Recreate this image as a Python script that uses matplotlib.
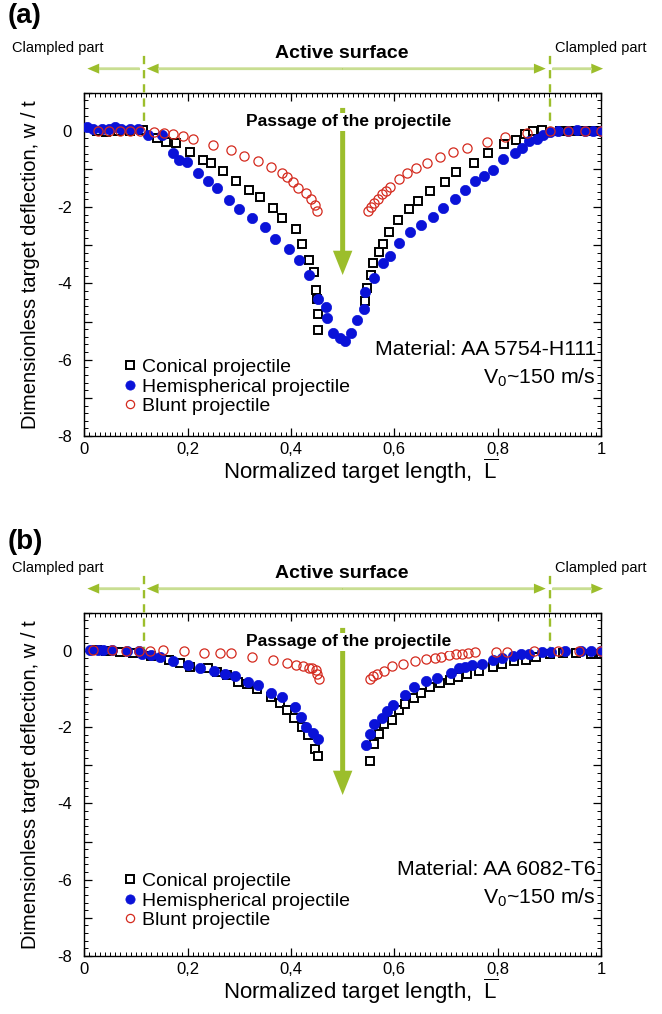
"""
Dimensionless target deflection along the normalized target length
(a) AA 5754-H111, (b) AA 6082-T6, V0 ~ 150 m/s
"""
import matplotlib
matplotlib.use('Agg')
import matplotlib.pyplot as plt
from matplotlib.ticker import MultipleLocator, FuncFormatter

plt.rcParams['font.family'] = ['Liberation Sans', 'DejaVu Sans']
plt.rcParams['mathtext.fontset'] = 'custom'
plt.rcParams['mathtext.rm'] = 'Liberation Sans'

# =====================================
# Measurement data (read from the figure)
# =====================================
# (a) AA 5754-H111
a_con_x = [0.024, 0.043, 0.066, 0.088, 0.114, 0.141, 0.158, 0.177, 0.205, 0.230,
           0.245, 0.268, 0.293, 0.319, 0.340, 0.365, 0.382, 0.409, 0.422, 0.435,
           0.444, 0.449, 0.451, 0.452, 0.452,
           0.543, 0.548, 0.554, 0.559, 0.570, 0.578, 0.590, 0.608, 0.628, 0.645,
           0.669, 0.698, 0.719, 0.754, 0.782, 0.812, 0.835, 0.853, 0.869, 0.885,
           0.921, 0.937, 0.953, 0.969, 0.985, 1.0]
a_con_y = [0.0, -0.03, 0.0, 0.0, 0.02, -0.20, -0.29, -0.33, -0.56, -0.77,
           -0.85, -1.04, -1.31, -1.55, -1.74, -2.01, -2.29, -2.57, -2.96, -3.38,
           -3.71, -4.16, -4.42, -4.81, -5.23,
           -4.46, -4.12, -3.79, -3.46, -3.18, -2.96, -2.65, -2.33, -2.05, -1.83,
           -1.59, -1.33, -1.09, -0.85, -0.57, -0.35, -0.24, -0.09, 0.0, 0.01,
           0.0, 0.0, 0.0, 0.0, 0.0, 0.0]

a_hem_x = [0.005, 0.017, 0.034, 0.047, 0.059, 0.072, 0.088, 0.104, 0.124, 0.150,
           0.172, 0.183, 0.198, 0.221, 0.240, 0.256, 0.281, 0.300, 0.324, 0.350,
           0.370, 0.396, 0.416, 0.434, 0.453, 0.467, 0.469, 0.481, 0.495, 0.504,
           0.516, 0.528, 0.541, 0.544, 0.560, 0.578, 0.592, 0.609, 0.630, 0.652,
           0.674, 0.695, 0.717, 0.737, 0.757, 0.774, 0.790, 0.811, 0.834, 0.847,
           0.861, 0.877, 0.887, 0.901, 0.917, 0.937, 0.953, 0.969, 0.985, 1.0]
a_hem_y = [0.10, 0.06, 0.06, 0.04, 0.10, 0.04, 0.04, 0.04, -0.11, -0.11,
           -0.57, -0.77, -0.83, -1.11, -1.31, -1.50, -1.81, -2.05, -2.29, -2.53,
           -2.84, -3.10, -3.39, -3.77, -4.42, -4.61, -4.90, -5.30, -5.44, -5.50,
           -5.30, -4.96, -4.68, -4.23, -3.85, -3.46, -3.27, -2.94, -2.65, -2.46,
           -2.27, -2.03, -1.79, -1.55, -1.31, -1.18, -1.03, -0.75, -0.57, -0.46,
           -0.26, -0.22, -0.11, -0.04, 0.0, 0.0, 0.01, 0.0, 0.0, 0.0]

a_blu_x = [0.027, 0.048, 0.069, 0.088, 0.108, 0.134, 0.154, 0.171, 0.192, 0.211,
           0.250, 0.283, 0.310, 0.337, 0.361, 0.382, 0.393, 0.403, 0.414, 0.430,
           0.438, 0.447, 0.451,
           0.550, 0.554, 0.561, 0.568, 0.576, 0.583, 0.592, 0.609, 0.624, 0.642,
           0.663, 0.688, 0.713, 0.740, 0.779, 0.814, 0.856, 0.901, 0.937, 0.969, 1.0]
a_blu_y = [0.0, 0.0, 0.0, 0.0, 0.0, -0.03, -0.07, -0.09, -0.14, -0.22,
           -0.36, -0.50, -0.65, -0.78, -0.94, -1.11, -1.20, -1.33, -1.49, -1.63,
           -1.78, -1.94, -2.09,
           -2.09, -2.00, -1.90, -1.78, -1.66, -1.57, -1.48, -1.27, -1.11, -0.98,
           -0.85, -0.68, -0.56, -0.44, -0.29, -0.16, -0.07, 0.0, 0.0, 0.0, 0.0]

# (b) AA 6082-T6
b_con_x = [0.024, 0.043, 0.069, 0.095, 0.130, 0.163, 0.185, 0.205, 0.240, 0.256,
           0.276, 0.298, 0.314, 0.334, 0.361, 0.379, 0.392, 0.406, 0.421, 0.432,
           0.446, 0.452,
           0.553, 0.561, 0.570, 0.580, 0.595, 0.610, 0.621, 0.638, 0.652, 0.670,
           0.688, 0.708, 0.724, 0.740, 0.763, 0.791, 0.809, 0.832, 0.855, 0.874,
           0.902, 0.927, 0.951, 0.980, 1.0]
b_con_y = [0.02, 0.0, -0.04, -0.05, -0.13, -0.24, -0.33, -0.42, -0.46, -0.55,
           -0.64, -0.81, -0.88, -1.01, -1.22, -1.38, -1.55, -1.77, -1.99, -2.21,
           -2.58, -2.77,
           -2.89, -2.43, -2.17, -1.93, -1.81, -1.55, -1.40, -1.24, -1.10, -0.96,
           -0.84, -0.77, -0.69, -0.60, -0.53, -0.42, -0.35, -0.28, -0.24, -0.16,
           -0.09, -0.07, -0.07, -0.09, -0.09]

b_hem_x = [0.011, 0.027, 0.037, 0.053, 0.082, 0.105, 0.111, 0.130, 0.147, 0.172,
           0.201, 0.223, 0.252, 0.272, 0.292, 0.317, 0.337, 0.361, 0.382, 0.408,
           0.419, 0.430, 0.443, 0.453,
           0.546, 0.553, 0.561, 0.577, 0.585, 0.598, 0.621, 0.639, 0.661, 0.683,
           0.710, 0.726, 0.737, 0.751, 0.769, 0.791, 0.809, 0.829, 0.845, 0.861,
           0.885, 0.904, 0.931, 0.961, 0.981, 1.0]
b_hem_y = [0.02, 0.02, 0.02, 0.02, 0.0, 0.0, -0.09, -0.11, -0.16, -0.26,
           -0.37, -0.45, -0.52, -0.61, -0.65, -0.81, -0.90, -1.10, -1.22, -1.48,
           -1.73, -1.99, -2.15, -2.32,
           -2.46, -2.19, -1.93, -1.75, -1.59, -1.43, -1.17, -0.96, -0.80, -0.71,
           -0.57, -0.44, -0.42, -0.38, -0.34, -0.24, -0.18, -0.13, -0.09, -0.09,
           -0.04, -0.02, 0.0, 0.0, 0.0, 0.0]

b_blu_x = [0.016, 0.054, 0.081, 0.105, 0.128, 0.152, 0.193, 0.232, 0.263, 0.283,
           0.325, 0.365, 0.393, 0.410, 0.424, 0.434, 0.441, 0.448, 0.451, 0.454,
           0.553, 0.559, 0.567, 0.580, 0.596, 0.616, 0.640, 0.661, 0.678, 0.691,
           0.706, 0.719, 0.731, 0.742, 0.757, 0.797, 0.819, 0.870, 0.916, 0.958, 1.0]
b_blu_y = [0.02, 0.02, 0.0, 0.0, 0.0, 0.02, 0.0, -0.07, -0.07, -0.07,
           -0.17, -0.24, -0.31, -0.36, -0.40, -0.44, -0.46, -0.51, -0.61, -0.74,
           -0.75, -0.66, -0.60, -0.53, -0.40, -0.35, -0.26, -0.22, -0.18, -0.16,
           -0.12, -0.09, -0.09, -0.07, -0.04, -0.04, -0.02, 0.0, 0.0, 0.0, 0.0]

labels = ['Conical projectile', 'Hemispherical projectile', 'Blunt projectile']
x_clamp = [0.1155, 0.901]

GREEN = '#9cbe2c'
GREEN_LIGHT = '#c8de92'
BLUE = '#0a12d8'
RED = '#d42a1e'


def xfmt(v, pos):
    if abs(v) < 1e-9:
        return '0'
    if abs(v - 1) < 1e-9:
        return '1'
    return ('%.1f' % v).replace('.', ',')


def yfmt(v, pos):
    iv = int(round(v))
    if iv % 2:
        return ''
    return '%d' % iv


def arrow(ax, x0, x1, y):
    # single headed arrow: dark head, lighter shaft
    ax.annotate('', xy=(x1, y), xytext=(x0, y), annotation_clip=False,
                arrowprops=dict(arrowstyle='simple,head_length=0.85,head_width=0.72,tail_width=0.14',
                                color=GREEN, lw=0, shrinkA=0, shrinkB=0, mutation_scale=10))
    sgn = 1 if x1 > x0 else -1
    ax.plot([x0, x1 - sgn * 0.022], [y, y], color=GREEN_LIGHT, lw=1.6,
            clip_on=False, solid_capstyle='butt', zorder=3)


def panel(ax, con, hem, blu, material, leg_top):
    ax.plot(con[0], con[1], 's', ms=6.3, mfc='white', mec='black', mew=1.4,
            ls='none', label=labels[0], zorder=4)
    ax.plot(hem[0], hem[1], 'o', ms=7.4, mfc=BLUE, mec=BLUE, mew=0.5,
            ls='none', label=labels[1], zorder=5)
    ax.plot(blu[0], blu[1], 'o', ms=6.6, mfc='none', mec=RED, mew=0.9,
            ls='none', label=labels[2], zorder=6)

    ax.set_xlim(0, 1)
    ax.set_ylim(-8, 1)
    ax.xaxis.set_major_locator(MultipleLocator(0.2))
    ax.xaxis.set_minor_locator(MultipleLocator(0.01))
    ax.yaxis.set_major_locator(MultipleLocator(1))
    ax.yaxis.set_minor_locator(MultipleLocator(0.2))
    ax.xaxis.set_major_formatter(FuncFormatter(xfmt))
    ax.yaxis.set_major_formatter(FuncFormatter(yfmt))
    ax.tick_params(which='both', direction='in', top=True, right=True,
                   labelsize=12, width=0.9)
    ax.tick_params(axis='x', which='major', length=6, pad=4.5)
    ax.tick_params(axis='y', which='major', length=6, pad=9)
    ax.tick_params(which='minor', length=3, width=0.7)
    for s in ax.spines.values():
        s.set_linewidth(1.0)

    ax.set_xlabel(r'Normalized target length,  $\overline{\mathregular{L}}$',
                  fontsize=16, labelpad=1)
    ax.xaxis.set_label_coords(0.535, -0.06, transform=ax.transAxes)
    ax.xaxis.label.set_va('top')
    ax.set_ylabel('Dimensionless target deflection, w / t', fontsize=14.5, labelpad=12)

    # clamped / active zones
    for xc in x_clamp:
        ax.plot([xc, xc], [-0.1, 2.1], color=GREEN, lw=1.7, dashes=[3.5, 2.5],
                clip_on=False, zorder=3)
    arrow(ax, 0.107, 0.006, 1.63)
    arrow(ax, 0.5, 0.121, 1.63)
    arrow(ax, 0.5, 0.893, 1.63)
    arrow(ax, 0.906, 1.004, 1.63)
    ax.text(0.498, 2.03, 'Active surface', fontsize=14, fontweight='bold',
            ha='center', va='center', clip_on=False)
    ax.text(-0.052, 2.17, 'Clampled part', fontsize=10.5, ha='center', va='center')
    ax.text(1.0, 2.17, 'Clampled part', fontsize=10.5, ha='center', va='center')

    # projectile passage
    ax.annotate('', xy=(0.5, -3.78), xytext=(0.5, 0.6),
                arrowprops=dict(arrowstyle='simple,head_length=1.75,head_width=1.4,tail_width=0.36',
                                color=GREEN, lw=0, shrinkA=0, shrinkB=0, mutation_scale=10),
                zorder=2)
    ax.text(0.512, 0.24, 'Passage of the projectile', fontsize=12.5, fontweight='bold',
            ha='center', va='center', zorder=7,
            bbox=dict(facecolor='white', edgecolor='none', pad=1.0))

    ax.text(0.99, -5.74, material, fontsize=15.3, ha='right', va='center')
    ax.text(0.99, -6.46, r'V$_{\mathregular{0}}$~150 m/s', fontsize=15.3,
            ha='right', va='center')

    ax.legend(loc='upper left', bbox_to_anchor=(0.075, leg_top), frameon=False,
              fontsize=14, handlelength=0.7, handletextpad=0.3, labelspacing=0.1,
              borderaxespad=0, borderpad=0, markerscale=0.9)


fig = plt.figure(figsize=(6.62, 10.14), dpi=100)
ax1 = fig.add_axes([0.1273, 0.570, 0.7806, 0.3386])
ax2 = fig.add_axes([0.1273, 0.0572, 0.7806, 0.3386])

panel(ax1, (a_con_x, a_con_y), (a_hem_x, a_hem_y), (a_blu_x, a_blu_y),
      'Material: AA 5754-H111', 0.226)
panel(ax2, (b_con_x, b_con_y), (b_hem_x, b_hem_y), (b_blu_x, b_blu_y),
      'Material: AA 6082-T6', 0.243)

fig.text(0.012, 0.997, '(a)', fontsize=20, fontweight='bold', ha='left', va='top')
fig.text(0.012, 0.478, '(b)', fontsize=20, fontweight='bold', ha='left', va='top')

fig.savefig('out.png', dpi=100)
